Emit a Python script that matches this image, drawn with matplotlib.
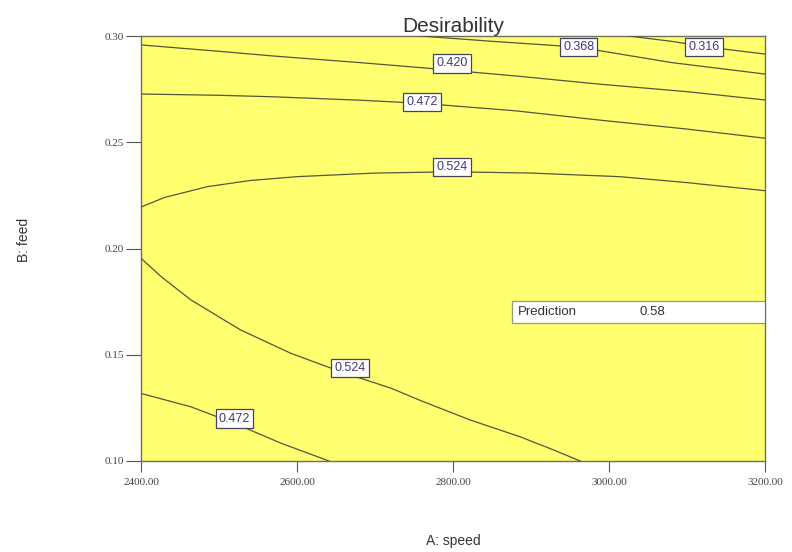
import numpy as np
import matplotlib
matplotlib.use("Agg")
import matplotlib.pyplot as plt

# contour lines: (speed, feed) points per level
levels = ["0.316", "0.368", "0.420", "0.472", "0.524", "0.524", "0.472"]
line_x = [
    [3025, 3080, 3122, 3200],
    [2758, 2850, 2960, 3080, 3200],
    [2400, 2500, 2569, 2680, 2769, 2880, 2986, 3100, 3200],
    [2400, 2500, 2569, 2680, 2760, 2880, 2986, 3100, 3200],
    [2400, 2430, 2485, 2540, 2600, 2700, 2800, 2900, 3014, 3100, 3200],
    [2400, 2426, 2464, 2528, 2592, 2656, 2721, 2758, 2822, 2886, 2929, 2963],
    [2400, 2464, 2520, 2580, 2641],
]
line_y = [
    [0.300, 0.2975, 0.2950, 0.2915],
    [0.300, 0.2975, 0.2948, 0.2875, 0.2821],
    [0.2958, 0.2928, 0.2906, 0.2875, 0.2848, 0.2812, 0.2774, 0.2738, 0.2699],
    [0.2727, 0.2721, 0.2714, 0.2698, 0.2683, 0.2648, 0.2605, 0.2562, 0.2519],
    [0.2195, 0.2240, 0.2291, 0.2320, 0.2338, 0.2355, 0.2361, 0.2355, 0.2338, 0.2310, 0.2272],
    [0.1954, 0.1867, 0.1758, 0.1616, 0.1507, 0.1420, 0.1342, 0.1285, 0.1193, 0.1114, 0.1052, 0.100],
    [0.1318, 0.1255, 0.1177, 0.1083, 0.100],
]
label_x = [3122, 2961, 2799, 2760, 2799, 2668, 2520]
label_y = [0.2950, 0.2950, 0.2871, 0.2691, 0.2385, 0.1436, 0.1200]

x_ticks = [2400, 2600, 2800, 3000, 3200]
y_ticks = [0.10, 0.15, 0.20, 0.25, 0.30]

pred_label = "Prediction"
pred_value = "0.58"
pred_box = (2875, 3200, 0.1648, 0.1754)

fig = plt.figure(figsize=(7.92, 5.52), dpi=100)
ax = fig.add_axes([141 / 792, 91 / 552, 624 / 792, 425 / 552])
ax.set_facecolor('#ffff70')
ax.set_xlim(2400, 3200)
ax.set_ylim(0.10, 0.30)

for xs, ys in zip(line_x, line_y):
    ax.plot(xs, ys, color='#55553a', linewidth=0.9, zorder=3)

for txt, lx, ly in zip(levels, label_x, label_y):
    ax.text(lx, ly, txt, fontsize=9, color='#3a3a78', ha='center', va='center',
            family='Liberation Sans', zorder=5,
            bbox=dict(boxstyle='square,pad=0.25', facecolor='white',
                      edgecolor='#44445a', linewidth=0.9))

x0, x1, y0, y1 = pred_box
ax.fill([x0, x1, x1, x0], [y0, y0, y1, y1], facecolor='white',
        edgecolor='#9a9a70', linewidth=0.9, zorder=4)
ax.text(x0 + 8, (y0 + y1) / 2, pred_label, fontsize=9.5, color='#333333',
        ha='left', va='center', family='Liberation Sans', zorder=6)
ax.text(3039, (y0 + y1) / 2, pred_value, fontsize=9.5, color='#333333',
        ha='left', va='center', family='Liberation Sans', zorder=6)

ax.set_xticks(x_ticks)
ax.set_xticklabels(["%.2f" % v for v in x_ticks])
ax.set_yticks(y_ticks)
ax.set_yticklabels(["%.2f" % v for v in y_ticks])
ax.tick_params(direction='out', width=0.8, color='#555555',
               labelsize=8, labelcolor='#444444')
ax.tick_params(axis='y', length=11, pad=1.5)
ax.tick_params(axis='x', length=8, pad=4)
for lab in ax.get_xticklabels() + ax.get_yticklabels():
    lab.set_family('Liberation Serif')
for sp in ax.spines.values():
    sp.set_color('#707055')
    sp.set_linewidth(1.0)

ax.set_title("Desirability", fontsize=15, family='Liberation Sans',
             color='#333333', pad=3)
fig.text(453 / 792, 1 - 541 / 552, "A: speed", fontsize=10, family='Liberation Sans',
         color='#333333', ha='center', va='center')
fig.text(24 / 792, 1 - 240 / 552, "B: feed", fontsize=10, family='Liberation Sans',
         color='#333333', ha='center', va='center', rotation=90)

fig.savefig("out.png", dpi=100)
